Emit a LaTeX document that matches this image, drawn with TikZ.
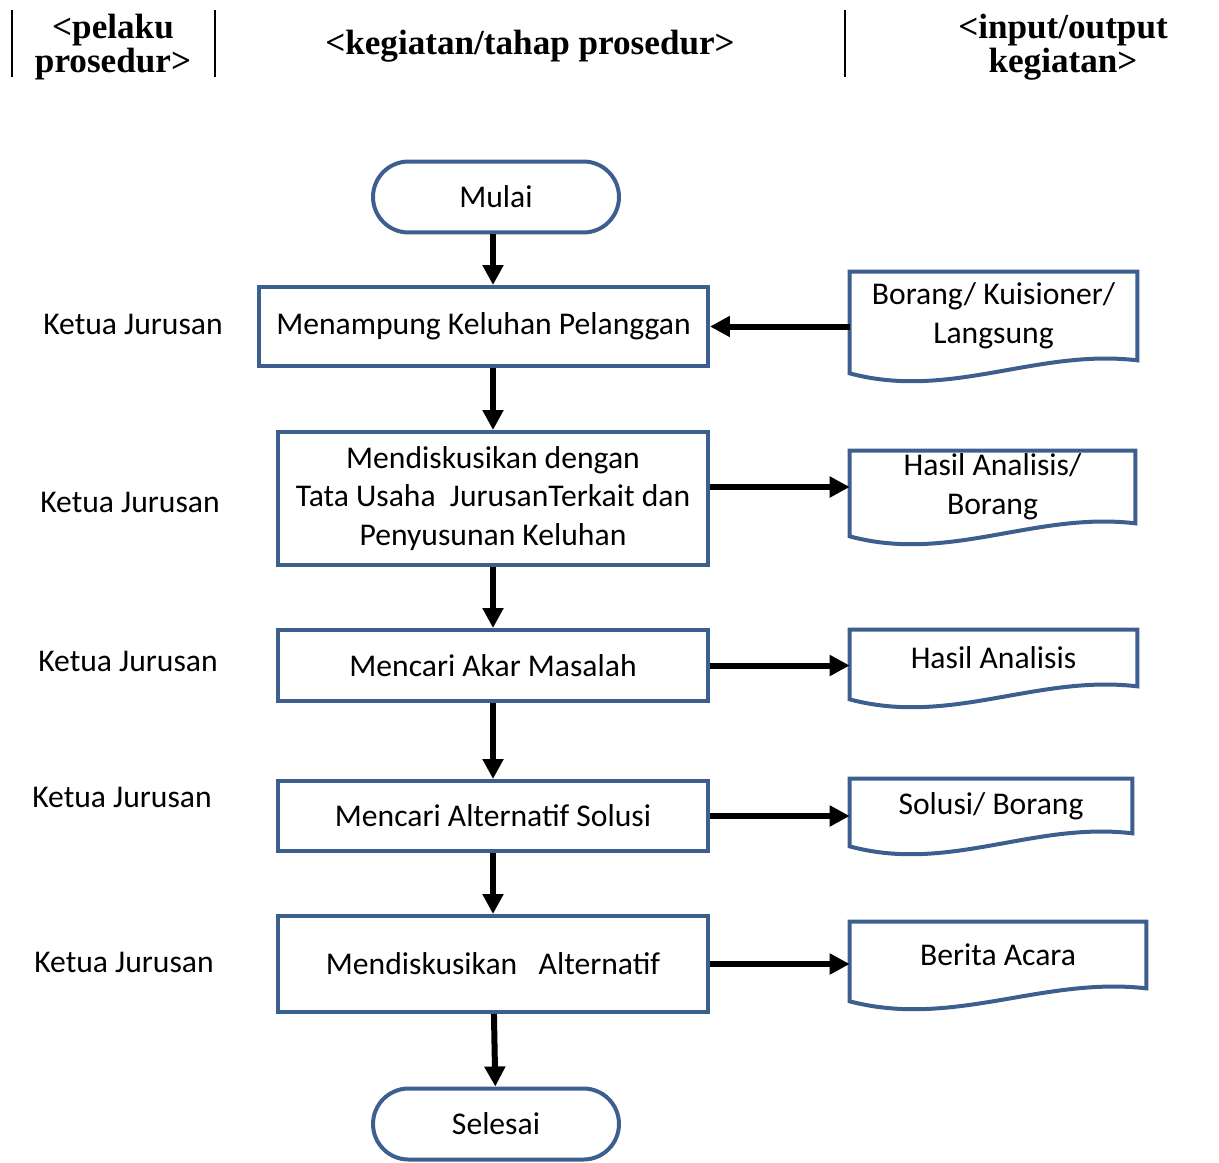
\documentclass[tikz,border=0pt]{standalone}
\usepackage{fontspec}
\setmainfont{Carlito}
\newfontfamily\headfont{Liberation Serif}
\usetikzlibrary{arrows.meta,shapes.misc,calc}
\definecolor{flowblue}{RGB}{61,95,143}
\begin{document}
\begin{tikzpicture}[x=0.02cm,y=-0.02cm,
  every node/.style={font=\fontsize{18}{22}\selectfont},
  head/.style={font=\headfont\bfseries\fontsize{20}{19}\selectfont,align=center},
  terminal/.style={draw=flowblue,line width=0.08cm,rounded rectangle,
    minimum width=4.92cm,minimum height=1.42cm,inner sep=0pt},
  process/.style={draw=flowblue,line width=0.08cm,inner sep=0pt,align=center},
  doc/.style={inner sep=0pt,align=center},
  docline/.style={draw=flowblue,line width=0.08cm},
  flow/.style={line width=0.12cm,-{Triangle[length=0.4cm,width=0.4cm]}},
  sep/.style={line width=0.04cm}]
\useasboundingbox (0,0) rectangle (1219,1162);
% header
\node[head] (h1) at (113,47) {<pelaku\\prosedur>};
\node[head] (h2) at (530,46) {<kegiatan/tahap prosedur>};
\node[head] (h3) at (1063,47) {<input/output\\kegiatan>};
\draw[sep] (12,10) -- (12,77) (215,10) -- (215,77) (845,10) -- (845,77);
% steps
\node[terminal] (m) at (496,197) {Mulai};
\node[process,minimum width=8.98cm,minimum height=1.58cm] (b1) at (483.5,326.5)
  {Menampung Keluhan Pelanggan};
\node[process,minimum width=8.6cm,minimum height=2.66cm] (b2) at (493,498.5)
  {Mendiskusikan dengan\\Tata Usaha~ JurusanTerkait dan\\Penyusunan Keluhan};
\node[process,minimum width=8.6cm,minimum height=1.42cm] (b3) at (493,665.5)
  {Mencari Akar Masalah};
\node[process,minimum width=8.6cm,minimum height=1.4cm] (b4) at (493,816)
  {Mencari Alternatif Solusi};
\node[process,minimum width=8.6cm,minimum height=1.92cm] (b5) at (493,964)
  {Mendiskusikan~~ Alternatif};
\node[terminal] (s) at (496,1124) {Selesai};
% actors
\node (k1) at (133,324) {Ketua Jurusan};
\node (k2) at (130,502) {Ketua Jurusan};
\node (k3) at (128,661) {Ketua Jurusan};
\node (k4) at (122,797) {Ketua Jurusan};
\node (k5) at (124,962) {Ketua Jurusan};
% documents
\node[doc,minimum width=5.74cm,minimum height=1.76cm] (d1) at (993.5,316)
  {Borang/ Kuisioner/\\Langsung};
\node[doc,minimum width=5.7cm,minimum height=1.44cm] (d2) at (992.5,487)
  {Hasil Analisis/\\Borang};
\node[doc,minimum width=5.74cm,minimum height=1.12cm] (d3) at (993.5,658)
  {Hasil Analisis};
\node[doc,minimum width=5.64cm,minimum height=1.08cm] (d4) at (991,806)
  {Solusi/ Borang};
\node[doc,minimum width=5.92cm,minimum height=1.32cm] (d5) at (998,955)
  {Berita Acara};
\foreach \d in {d1,d2,d3,d4,d5}
  \draw[docline] (\d.north west) -- (\d.north east) -- (\d.south east)
    .. controls ($(\d.south east)!0.35!(\d.south west)+(0,-12)$)
    and ($(\d.south east)!0.65!(\d.south west)+(0,40)$)
    .. ($(\d.south west)+(0,13)$) -- cycle;
% connectors
\draw[flow] (m.south -| b2) -- (b1.north -| b2);
\draw[flow] (b1.south -| b2) -- (b2.north);
\draw[flow] (b2) -- (b3);
\draw[flow] (b3) -- (b4);
\draw[flow] (b4) -- (b5);
\draw[flow] (b5) -- (s);
\draw[flow] (d1.west |- b1) -- (b1.east);
\draw[flow] (b2.east |- d2.west) -- (d2.west);
\draw[flow] (b3.east) -- (b3 -| d3.west);
\draw[flow] (b4.east) -- (b4 -| d4.west);
\draw[flow] (b5.east) -- (b5 -| d5.west);
\end{tikzpicture}
\end{document}
